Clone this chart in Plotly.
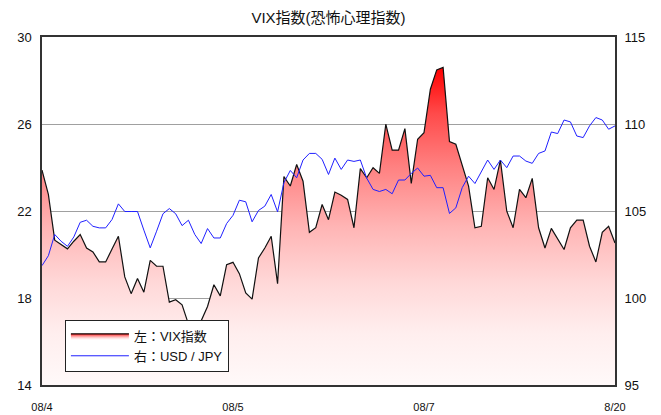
import plotly.graph_objects as go

# VIX index (left axis)
vix = [23.88, 22.76, 20.66, 20.46, 20.26, 20.61, 20.92, 20.30, 20.12, 19.66,
       19.66, 20.25, 20.84, 18.97, 18.20, 18.90, 18.27, 19.73, 19.46, 19.46,
       17.81, 17.92, 17.69, 16.80, 16.70, 16.95, 17.61, 18.61, 18.10, 19.53,
       19.64, 19.12, 18.23, 17.95, 19.84, 20.30, 20.84, 18.66, 23.58, 23.15,
       24.14, 23.37, 21.02, 21.23, 22.30, 21.60, 22.87, 22.72, 22.53, 21.23,
       23.95, 23.53, 23.99, 23.73, 25.99, 24.80, 24.80, 25.79, 23.27, 25.30,
       25.60, 27.60, 28.49, 28.60, 25.19, 25.07, 24.14, 23.14, 21.23, 21.30,
       23.53, 22.99, 24.34, 21.99, 21.23, 22.99, 22.61, 23.50, 21.23, 20.30,
       21.20, 20.69, 20.23, 21.23, 21.58, 21.58, 20.38, 19.66, 21.02, 21.30,
       20.53]

# USD/JPY (right axis)
usdjpy = [101.86, 102.43, 103.65, 103.26, 102.97, 103.51, 104.35, 104.47, 104.12, 104.03,
          104.03, 104.51, 105.41, 104.97, 104.97, 104.97, 103.90, 102.88, 103.84, 104.84,
          105.14, 104.84, 104.16, 104.47, 103.65, 103.13, 103.99, 103.45, 103.45, 104.28,
          104.75, 105.62, 105.53, 104.38, 105.03, 105.28, 105.95, 104.95, 106.63, 107.33,
          106.91, 107.93, 108.31, 108.31, 107.97, 107.10, 108.04, 107.39, 107.93, 107.85,
          107.93, 106.89, 106.24, 106.12, 106.24, 105.99, 106.78, 106.78, 107.16, 107.47,
          107.00, 107.05, 106.34, 106.34, 104.86, 105.18, 106.34, 107.00, 106.58, 107.29,
          107.93, 107.39, 107.93, 107.49, 108.16, 108.16, 107.87, 107.74, 108.31, 108.45,
          109.54, 109.45, 110.23, 110.12, 109.31, 109.22, 109.89, 110.37, 110.23, 109.70,
          109.89]

idx = list(range(len(vix)))
tick_pos = [0, 30, 60, 90]
tick_labels = ["08/4", "08/5", "08/7", "8/20"]

FONT = "Liberation Sans, Arial, Noto Sans CJK JP, sans-serif"

fig = go.Figure()
fig.add_trace(go.Scatter(
    x=idx, y=vix, name="左：VIX指数", mode="lines",
    line=dict(color="#111111", width=1.2),
    fill="tozeroy",
    fillgradient=dict(
        type="vertical", start=14, stop=28.6,
        colorscale=[[0.0, "#FFF9F9"], [0.164, "#FFEEEE"], [0.321, "#FFD8D8"],
                    [0.497, "#FFB5B5"], [0.69, "#FF8080"], [0.856, "#FF4A4A"],
                    [1.0, "#FF0000"]]),
))
fig.add_trace(go.Scatter(
    x=idx, y=usdjpy, name="右：USD / JPY", mode="lines",
    line=dict(color="#2020FF", width=1), yaxis="y2",
))

fig.update_layout(
    width=661, height=415,
    margin=dict(l=42, r=46, t=37, b=30, autoexpand=False),
    paper_bgcolor="white", plot_bgcolor="white",
    font=dict(family=FONT, color="#111111", size=13),
    title=dict(text="VIX指数(恐怖心理指数)", x=0.497, xanchor="center",
               y=0.957, yanchor="middle", font=dict(size=15, family=FONT)),
    showlegend=True,
    legend=dict(x=0.04, y=0.187, xanchor="left", yanchor="top",
                bgcolor="white", bordercolor="#222222", borderwidth=1,
                font=dict(size=13, family=FONT), itemwidth=58,
                traceorder="normal"),
    xaxis=dict(range=[0, 90], tickvals=tick_pos, ticktext=tick_labels,
               showgrid=False, zeroline=False, showline=True, mirror=True,
               linecolor="#333333", linewidth=1.5, automargin=False,
               ticks="outside", ticklen=11, tickcolor="rgba(0,0,0,0)",
               tickfont=dict(size=11)),
    yaxis=dict(range=[14, 30], dtick=4, tick0=14, showgrid=True,
               gridcolor="#A0A0A0", gridwidth=1, zeroline=False, automargin=False,
               showline=True, mirror=True, linecolor="#333333", linewidth=1.5,
               ticks="outside", ticklen=6, tickcolor="rgba(0,0,0,0)"),
    yaxis2=dict(range=[95, 115], dtick=5, tick0=95, overlaying="y", side="right",
                showgrid=False, zeroline=False, showline=False, automargin=False,
                ticks="outside", ticklen=6, tickcolor="rgba(0,0,0,0)"),
)

fig.write_html("out.html", config={"displayModeBar": False},
               post_script="document.body.style.margin='0';")
